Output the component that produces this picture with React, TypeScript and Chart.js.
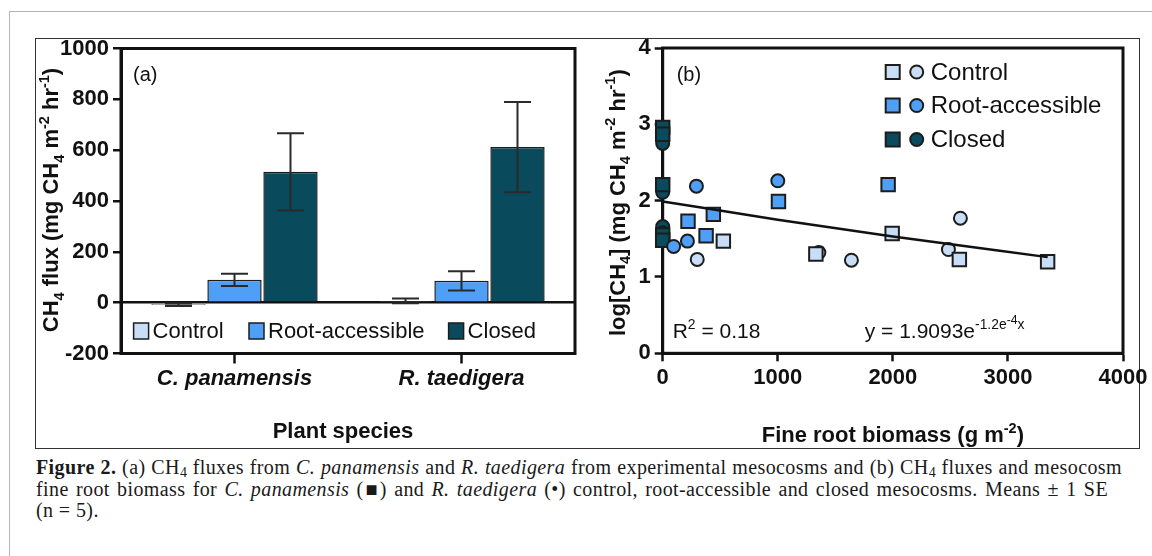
import React, { useEffect, useRef } from 'react';
import { Chart, registerables } from 'chart.js';

Chart.register(...registerables);

// ---------- Panel (a) data ----------
const species = ['C. panamensis', 'R. taedigera'];
const treatments = ['Control', 'Root-accessible', 'Closed'];
const treatmentColors = ['#c8def6', '#4f9ff6', '#0a4a5d'];
const controlFlux = [-8, 7];
const controlSE = [5, 9];
const rootFlux = [90, 86];
const rootSE = [24, 38];
const closedFlux = [515, 612];
const closedSE = [152, 178];
const fluxMin = -200;
const fluxMax = 1000;
const fluxStep = 200;

// ---------- Panel (b) data ----------
const controlSquareBiomass = [527, 1331, 1994, 2578, 3345];
const controlSquareFlux = [1.47, 1.3, 1.57, 1.23, 1.2];
const controlCircleBiomass = [300, 1357, 1640, 2483, 2587];
const controlCircleFlux = [1.23, 1.32, 1.22, 1.36, 1.77];
const rootSquareBiomass = [220, 440, 377, 1006, 1959];
const rootSquareFlux = [1.73, 1.82, 1.54, 1.99, 2.21];
const rootCircleBiomass = [95, 215, 293, 1000];
const rootCircleFlux = [1.4, 1.47, 2.19, 2.26];
const closedSquareBiomass = [0, 0, 0, 0, 0];
const closedSquareFlux = [2.96, 2.87, 2.21, 1.55, 1.48];
const closedCircleBiomass = [0, 0, 0, 0, 0];
const closedCircleFlux = [2.79, 2.75, 2.11, 1.66, 1.58];
const fitBiomass = [0, 1000, 2000, 3345];
const fitFlux = [1.99, 1.75, 1.53, 1.26];
const biomassMin = 0;
const biomassMax = 4000;
const biomassStep = 1000;
const logMin = 0;
const logMax = 4;
const logStep = 1;

// ---------- Text ----------
type Run = { t: string; k: number }; // k: -1 sub, 0 normal, 1 sup, 2 sup-of-sup
const run = (t: string, k = 0): Run => ({ t, k });
const fluxAxisTitle: Run[] = [run('CH'), run('4', -1), run(' flux (mg CH'), run('4', -1), run(' m'), run('-2', 1), run(' hr'), run('-1', 1), run(')')];
const speciesAxisTitle: Run[] = [run('Plant species')];
const logAxisTitle: Run[] = [run('log[CH'), run('4', -1), run('] (mg CH'), run('4', -1), run(' m'), run('-2', 1), run(' hr'), run('-1', 1), run(')')];
const biomassAxisTitle: Run[] = [run('Fine root biomass (g m'), run('-2', 1), run(')')];
const r2Text: Run[] = [run('R'), run('2', 1), run(' = 0.18')];
const eqText: Run[] = [run('y = 1.9093e'), run('-1.2e', 1), run('-4', 2), run('x', 1)];
const panelALabel = '(a)';
const panelBLabel = '(b)';

const SANS = '"Liberation Sans", Arial, Helvetica, sans-serif';
const INK = '#111111';
const EDGE = '#1c1c1c';

function drawRich(
  ctx: CanvasRenderingContext2D,
  runs: Run[],
  x: number,
  y: number,
  size: number,
  weight: string,
  rotate: boolean,
  align: 'left' | 'center' | 'right'
) {
  const scale: Record<number, number> = { [-1]: 0.66, 0: 1, 1: 0.66, 2: 0.58 };
  const shift: Record<number, number> = { [-1]: 0.26, 0: 0, 1: -0.42, 2: -0.66 };
  ctx.save();
  ctx.translate(x, y);
  if (rotate) ctx.rotate(-Math.PI / 2);
  ctx.fillStyle = INK;
  ctx.textAlign = 'left';
  ctx.textBaseline = 'alphabetic';
  const font = (k: number) => `${weight} ${size * scale[k]}px ${SANS}`;
  const widths = runs.map((r) => {
    ctx.font = font(r.k);
    return ctx.measureText(r.t).width;
  });
  const total = widths.reduce((a, b) => a + b, 0);
  let cx = align === 'center' ? -total / 2 : align === 'right' ? -total : 0;
  const base = size * 0.36;
  runs.forEach((r, i) => {
    ctx.font = font(r.k);
    ctx.fillText(r.t, cx, base + shift[r.k] * size);
    cx += widths[i];
  });
  ctx.restore();
  return total;
}

function drawFrame(chart: any) {
  const { ctx, chartArea: a } = chart;
  ctx.save();
  ctx.strokeStyle = INK;
  ctx.lineWidth = 3;
  ctx.strokeRect(a.left, a.top, a.right - a.left, a.bottom - a.top);
  ctx.restore();
}

const fluxMeans = [controlFlux, rootFlux, closedFlux];
const fluxErrors = [controlSE, rootSE, closedSE];

const panelAPlugin = {
  id: 'panelA',
  afterDatasetsDraw(chart: any) {
    const { ctx } = chart;
    const ys = chart.scales.y;
    ctx.save();
    ctx.strokeStyle = '#2a2a2a';
    ctx.lineWidth = 2;
    fluxErrors.forEach((se, i) => {
      const meta = chart.getDatasetMeta(i);
      meta.data.forEach((bar: any, j: number) => {
        const m = fluxMeans[i][j];
        const yt = ys.getPixelForValue(m + se[j]);
        const yb = ys.getPixelForValue(m - se[j]);
        const half = 13.5;
        ctx.beginPath();
        ctx.moveTo(bar.x, yt);
        ctx.lineTo(bar.x, yb);
        ctx.moveTo(bar.x - half, yt);
        ctx.lineTo(bar.x + half, yt);
        ctx.moveTo(bar.x - half, yb);
        ctx.lineTo(bar.x + half, yb);
        ctx.stroke();
      });
    });
    ctx.restore();
  },
  afterDraw(chart: any) {
    const { ctx, chartArea: a } = chart;
    drawFrame(chart);
    // panel label
    ctx.save();
    ctx.fillStyle = INK;
    ctx.font = `20px ${SANS}`;
    ctx.textBaseline = 'middle';
    ctx.fillText(panelALabel, a.left + 12, a.top + 27);
    // legend
    const boxX = [12.6, 128, 327.6];
    const cy = a.bottom - 22.5;
    ctx.font = `22px ${SANS}`;
    treatments.forEach((name, i) => {
      const x = a.left + boxX[i];
      ctx.fillStyle = treatmentColors[i];
      ctx.fillRect(x, cy - 8, 15, 16);
      ctx.strokeStyle = EDGE;
      ctx.lineWidth = 1.5;
      ctx.strokeRect(x, cy - 8, 15, 16);
      ctx.fillStyle = INK;
      ctx.fillText(name, x + 19, cy + 1);
    });
    ctx.restore();
    // titles
    drawRich(ctx, fluxAxisTitle, a.left - 71, (a.top + a.bottom) / 2 - 1, 22, 'bold', true, 'center');
    drawRich(ctx, speciesAxisTitle, (a.left + a.right) / 2 - 5, a.bottom + 76.5, 22, 'bold', false, 'center');
  },
};

const panelBPlugin = {
  id: 'panelB',
  beforeDatasetsDraw(chart: any) {
    drawFrame(chart);
  },
  afterDraw(chart: any) {
    const { ctx, chartArea: a } = chart;
    ctx.save();
    ctx.fillStyle = INK;
    ctx.font = `20px ${SANS}`;
    ctx.textBaseline = 'middle';
    ctx.fillText(panelBLabel, a.left + 14, a.top + 27);
    // legend
    const rows = [24, 57.5, 91.5];
    ctx.font = `24px ${SANS}`;
    treatments.forEach((name, i) => {
      const cy = a.top + rows[i];
      const sx = a.left + 230;
      const cx = a.left + 254;
      ctx.fillStyle = treatmentColors[i];
      ctx.strokeStyle = EDGE;
      ctx.lineWidth = 2;
      ctx.fillRect(sx - 7, cy - 7, 14, 14);
      ctx.strokeRect(sx - 7, cy - 7, 14, 14);
      ctx.beginPath();
      ctx.arc(cx, cy, 6.5, 0, Math.PI * 2);
      ctx.fill();
      ctx.stroke();
      ctx.fillStyle = INK;
      ctx.fillText(name, a.left + 268, cy + 1);
    });
    ctx.restore();
    drawRich(ctx, r2Text, a.left + 10, a.bottom - 23, 21, 'normal', false, 'left');
    drawRich(ctx, eqText, a.left + 202, a.bottom - 23, 21, 'normal', false, 'left');
    drawRich(ctx, logAxisTitle, a.left - 46, (a.top + a.bottom) / 2 + 2, 22, 'bold', true, 'center');
    drawRich(ctx, biomassAxisTitle, (a.left + a.right) / 2, a.bottom + 81, 22, 'bold', false, 'center');
  },
};

const boldTick = { family: SANS, size: 22, weight: 'bold' as const };

function configA(): any {
  return {
    type: 'bar',
    data: {
      labels: species,
      datasets: treatments.map((name, i) => ({
        label: name,
        data: fluxMeans[i],
        backgroundColor: treatmentColors[i],
        borderColor: EDGE,
        borderWidth: 1.5,
        categoryPercentage: 0.74,
        barPercentage: 0.97,
      })),
    },
    options: {
      animation: false,
      responsive: false,
      maintainAspectRatio: false,
      layout: { padding: { top: 28.5, right: 31, left: 0, bottom: 0 } },
      plugins: { legend: { display: false }, tooltip: { enabled: false } },
      scales: {
        x: {
          grid: { offset: false, drawOnChartArea: false, tickLength: 10, tickColor: INK, tickWidth: 2.5 },
          border: { color: INK, width: 3 },
          ticks: { color: INK, padding: 2, font: { ...boldTick, style: 'italic' } },
          afterFit: (s: any) => {
            s.height = 94.5;
            s.paddingLeft = 0;
            s.paddingRight = 0;
          },
        },
        y: {
          min: fluxMin,
          max: fluxMax,
          ticks: { stepSize: fluxStep, color: INK, padding: 4, autoSkip: false, font: boldTick, callback: (v: any) => String(v) },
          grid: {
            color: (c: any) => (c.tick && c.tick.value === 0 ? INK : 'rgba(0,0,0,0)'),
            lineWidth: 2.5,
            tickColor: INK,
            tickLength: 8,
            tickWidth: 2.5,
          },
          border: { color: INK, width: 3 },
          afterFit: (s: any) => {
            s.width = 85;
            s.paddingTop = 0;
            s.paddingBottom = 0;
          },
        },
      },
    },
    plugins: [panelAPlugin],
  };
}

const zip = (xs: number[], ys: number[]) => xs.map((x, i) => ({ x, y: ys[i] }));

function markerSet(label: string, xs: number[], ys: number[], color: string, style: 'rect' | 'circle') {
  return {
    label,
    data: zip(xs, ys),
    pointStyle: style,
    pointRadius: style === 'rect' ? 9.5 : 6.5,
    backgroundColor: color,
    pointBackgroundColor: color,
    borderColor: EDGE,
    pointBorderColor: EDGE,
    borderWidth: 2,
    pointBorderWidth: 2,
    clip: false,
  };
}

function configB(): any {
  return {
    type: 'scatter',
    data: {
      datasets: [
        {
          label: 'fit',
          data: zip(fitBiomass, fitFlux),
          showLine: true,
          pointRadius: 0,
          borderColor: INK,
          borderWidth: 2.5,
          cubicInterpolationMode: 'monotone',
          clip: false,
        },
        markerSet('Control', controlSquareBiomass, controlSquareFlux, treatmentColors[0], 'rect'),
        markerSet('Control', controlCircleBiomass, controlCircleFlux, treatmentColors[0], 'circle'),
        markerSet('Root-accessible', rootSquareBiomass, rootSquareFlux, treatmentColors[1], 'rect'),
        markerSet('Root-accessible', rootCircleBiomass, rootCircleFlux, treatmentColors[1], 'circle'),
        markerSet('Closed', closedSquareBiomass, closedSquareFlux, treatmentColors[2], 'rect'),
        markerSet('Closed', closedCircleBiomass, closedCircleFlux, treatmentColors[2], 'circle'),
      ],
    },
    options: {
      animation: false,
      responsive: false,
      maintainAspectRatio: false,
      layout: { padding: { top: 28, right: 29, left: 0, bottom: 0 } },
      plugins: { legend: { display: false }, tooltip: { enabled: false } },
      scales: {
        x: {
          type: 'linear',
          min: biomassMin,
          max: biomassMax,
          ticks: { stepSize: biomassStep, color: INK, padding: 3, font: boldTick, callback: (v: any) => String(v) },
          grid: { drawOnChartArea: false, tickLength: 8, tickColor: INK, tickWidth: 2.5 },
          border: { color: INK, width: 3 },
          afterFit: (s: any) => {
            s.height = 94.7;
            s.paddingLeft = 0;
            s.paddingRight = 0;
          },
        },
        y: {
          min: logMin,
          max: logMax,
          ticks: { stepSize: logStep, color: INK, padding: 4, font: boldTick, callback: (v: any) => String(v) },
          grid: { drawOnChartArea: false, tickLength: 8, tickColor: INK, tickWidth: 2.5 },
          border: { color: INK, width: 3 },
          afterFit: (s: any) => {
            s.width = 62.7;
            s.paddingTop = 0;
            s.paddingBottom = 0;
          },
        },
      },
    },
    plugins: [panelBPlugin],
  };
}

const subStyle: React.CSSProperties = { fontSize: '0.7em', verticalAlign: '-0.22em', lineHeight: 0, letterSpacing: 0 };
const captionLine = (width: number): React.CSSProperties => ({
  width,
  height: 21.5,
  textAlign: 'justify',
  textAlignLast: 'justify',
  textJustify: 'inter-word',
  whiteSpace: 'normal',
} as React.CSSProperties);

export default function App() {
  const refA = useRef<HTMLCanvasElement>(null);
  const refB = useRef<HTMLCanvasElement>(null);
  useEffect(() => {
    const a = new Chart(refA.current as HTMLCanvasElement, configA());
    const b = new Chart(refB.current as HTMLCanvasElement, configB());
    return () => {
      a.destroy();
      b.destroy();
    };
  }, []);
  return (
    <div style={{ position: 'fixed', left: 0, top: 0, width: 1152, height: 556, background: '#fff', overflow: 'hidden' }}>
      <div style={{ position: 'absolute', left: 9, top: 11, width: 1143, height: 0, borderTop: '1.5px solid #b4b4b4' }} />
      <div style={{ position: 'absolute', left: 9, top: 11, width: 0, height: 545, borderLeft: '1.5px solid #b4b4b4' }} />
      <div
        style={{
          position: 'absolute',
          left: 35,
          top: 38,
          width: 1105,
          height: 411,
          border: '1px solid #333',
          boxSizing: 'border-box',
        }}
      />
      <canvas ref={refA} width={570} height={428} style={{ position: 'absolute', left: 36, top: 20 }} />
      <canvas ref={refB} width={552} height={428} style={{ position: 'absolute', left: 600, top: 20 }} />
      <div
        style={{
          position: 'absolute',
          left: 36,
          top: 457,
          font: '20px "Liberation Serif", "Times New Roman", serif',
          lineHeight: '21.5px',
          letterSpacing: '0.4px',
          color: '#1a1a1a',
        }}
      >
        <div style={captionLine(1086)}>
          <b>Figure 2.</b> (a) CH<span style={subStyle}>4</span> fluxes from <i>C. panamensis</i> and <i>R. taedigera</i> from
          experimental mesocosms and (b) CH<span style={subStyle}>4</span> fluxes and mesocosm
        </div>
        <div style={captionLine(1072)}>
          fine root biomass for <i>C. panamensis</i> (■) and <i>R. taedigera</i> (•) control, root-accessible and closed
          mesocosms. Means ± 1 SE
        </div>
        <div style={{ height: 21.5 }}>(n = 5).</div>
      </div>
    </div>
  );
}
